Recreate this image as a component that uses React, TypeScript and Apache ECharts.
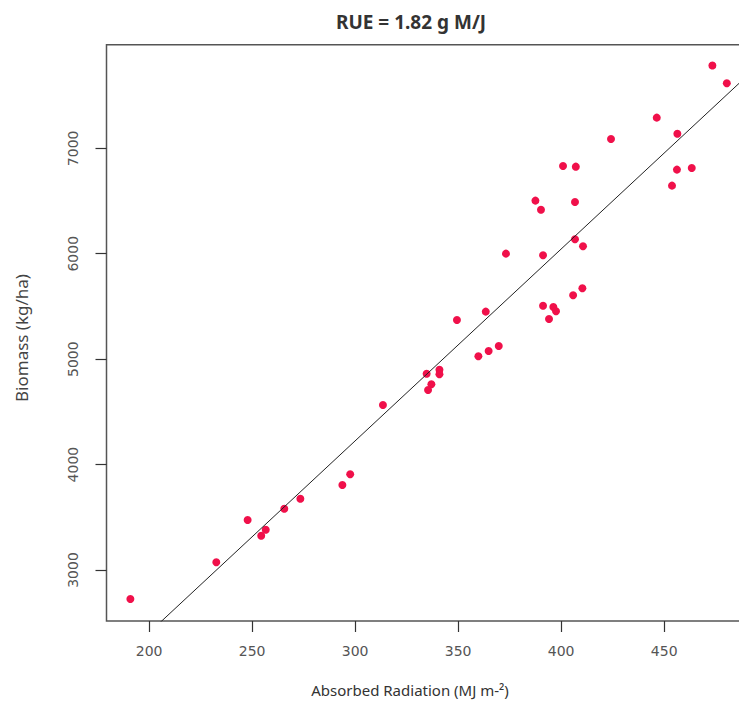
import React, { useEffect, useRef } from "react";
import * as echarts from "echarts";

// Absorbed radiation (MJ m-2) for each observation
const radiation: number[] = [
  473.4, 480.4, 446.4, 456.4, 424.2, 400.9, 407.1, 456.2, 463.4, 453.8,
  387.5, 390.2, 406.7, 406.7, 410.6, 373.2, 391.2, 410.3, 405.8, 391.2,
  396.2, 397.5, 394.1, 363.4, 349.4, 369.7, 364.8, 359.8, 334.7, 340.9,
  340.9, 337.0, 335.4, 313.5, 297.6, 293.8, 273.4, 265.6, 247.8, 256.6,
  254.4, 232.6, 190.9,
];
// Biomass (kg/ha) for each observation
const biomass: number[] = [
  7785, 7617, 7291, 7139, 7089, 6833, 6826, 6798, 6814, 6646,
  6504, 6418, 6491, 6137, 6071, 6001, 5986, 5673, 5606, 5507,
  5495, 5454, 5381, 5451, 5372, 5125, 5078, 5027, 4862, 4900,
  4857, 4762, 4708, 4565, 3908, 3806, 3676, 3581, 3474, 3382,
  3325, 3073, 2725,
];
const xTicks: number[] = [200, 250, 300, 350, 400, 450];
const yTicks: number[] = [3000, 4000, 5000, 6000, 7000];
const X_MIN = 179.3;
const X_MAX = 492;
const Y_MIN = 2516;
const Y_MAX = 7983;
// fitted line: biomass = SLOPE * radiation + INTERCEPT
const SLOPE = 18.2;
const INTERCEPT = -1235;
const TITLE = "RUE = 1.82 g M/J";
const X_NAME = "Absorbed Radiation (MJ m-²)";
const Y_NAME = "Biomass (kg/ha)";

export default function App() {
  const ref = useRef<HTMLDivElement>(null);
  useEffect(() => {
    if (!ref.current) return;
    const chart = echarts.init(ref.current, null, { renderer: "svg" });
    const points = radiation.map((x, i) => [x, biomass[i]]);
    const fit = [X_MIN, X_MAX].map((x) => [x, SLOPE * x + INTERCEPT]);
    const labelStyle = {
      color: "#555",
      fontFamily: "DejaVu Sans",
      fontSize: 14,
      formatter: (v: number) => String(Math.round(v)),
    };
    chart.setOption({
      animation: false,
      backgroundColor: "#ffffff",
      grid: {
        left: 106.5,
        top: 44.7,
        right: -11.7,
        bottom: 85,
        show: true,
        borderColor: "#555",
        borderWidth: 1.5,
        containLabel: false,
        outerBoundsMode: "none",
      },
      xAxis: {
        type: "value",
        min: X_MIN,
        max: X_MAX,
        splitLine: { show: false },
        axisLine: { show: false },
        axisTick: {
          show: true,
          inside: false,
          length: 11,
          lineStyle: { color: "#333", width: 1.2 },
          customValues: xTicks,
        },
        axisLabel: {
          ...labelStyle,
          margin: 23,
          customValues: xTicks,
          showMinLabel: true,
          showMaxLabel: true,
        },
      },
      yAxis: {
        type: "value",
        min: Y_MIN,
        max: Y_MAX,
        splitLine: { show: false },
        axisLine: { show: false },
        axisTick: {
          show: true,
          inside: false,
          length: 11,
          lineStyle: { color: "#333", width: 1.2 },
          customValues: yTicks,
        },
        axisLabel: {
          ...labelStyle,
          margin: 27,
          rotate: 90,
          customValues: yTicks,
        },
      },
      series: [
        {
          type: "line",
          data: fit,
          symbol: "none",
          clip: true,
          lineStyle: { color: "#222", width: 1 },
          z: 3,
          silent: true,
        },
        {
          type: "scatter",
          data: points,
          symbol: "circle",
          symbolSize: 8,
          itemStyle: { color: "#f0104a", opacity: 1 },
          z: 2,
        },
      ],
      graphic: [
        {
          type: "text",
          x: 411,
          y: 22,
          style: {
            text: TITLE,
            fill: "#333",
            font: "bold 19px 'Noto Sans'",
            textAlign: "center",
            textVerticalAlign: "middle",
          },
        },
        {
          type: "text",
          x: 410,
          y: 690,
          style: {
            text: X_NAME,
            fill: "#333",
            font: "15px 'Noto Sans'",
            textAlign: "center",
            textVerticalAlign: "middle",
          },
        },
        {
          type: "text",
          x: 21,
          y: 338,
          rotation: Math.PI / 2,
          style: {
            text: Y_NAME,
            fill: "#444",
            font: "17px 'Noto Sans'",
            textAlign: "center",
            textVerticalAlign: "middle",
          },
        },
      ],
    });
    return () => chart.dispose();
  }, []);
  return (
    <div
      ref={ref}
      style={{ position: "fixed", left: 0, top: 0, width: 739, height: 706 }}
    />
  );
}
